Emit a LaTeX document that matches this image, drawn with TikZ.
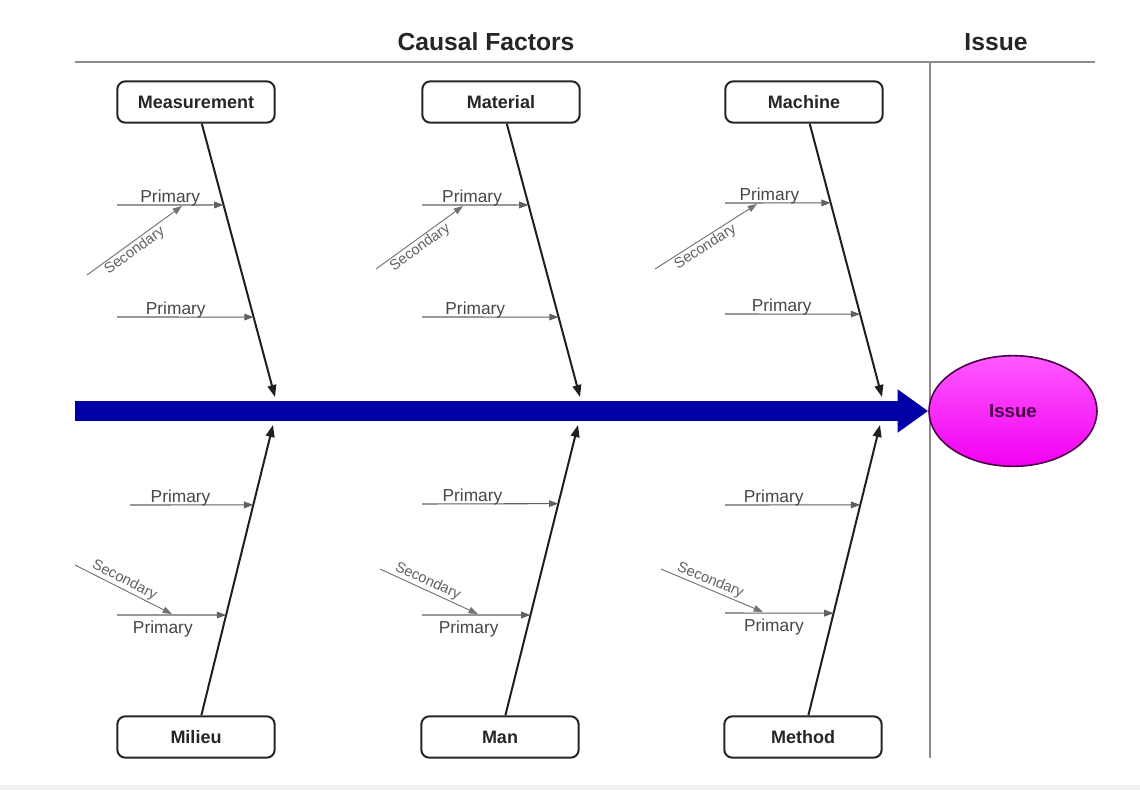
\documentclass[tikz,border=0pt]{standalone}
\usepackage{fontspec}
\setmainfont{Liberation Sans}
\usetikzlibrary{arrows.meta,shapes.geometric,calc}
\definecolor{spineblue}{HTML}{0000A6}
\definecolor{rulegray}{HTML}{8C8C8C}
\definecolor{issuetxt}{HTML}{4A0048}
\begin{document}
\begin{tikzpicture}[x=0.75pt,y=-0.75pt,
  catbox/.style={draw=black!85, line width=1.5pt, rounded corners=6pt,
    minimum width=118pt, minimum height=31pt, fill=white, inner sep=0pt,
    font=\fontsize{13.5}{15}\selectfont\bfseries, text=black!85},
  bone/.style={line width=1.5pt, draw=black!88, -{Triangle[length=9pt,width=6.5pt]}},
  prim/.style={line width=0.8pt, draw=black!62, -{Triangle[length=7pt,width=5pt]}},
  sec/.style={line width=0.7pt, draw=black!55, -{Triangle[length=7pt,width=5pt]}},
  plab/.style={font=\fontsize{13}{15}\selectfont, text=black!72, inner sep=0pt},
  pup/.style={plab, above, yshift=-1.5pt},
  pdown/.style={plab, below, yshift=-4pt},
  slab/.style={font=\fontsize{11}{12}\selectfont, text=black!62, inner sep=1pt},
  titlelab/.style={font=\fontsize{18.5}{22}\selectfont\bfseries, text=black!85},
  rule/.style={draw=rulegray, line width=1.4pt},
  spinearrow/.style={draw=spineblue, line width=15pt, -{Triangle[length=23pt,width=31pt]}}
]
\useasboundingbox (0,0) rectangle (1140,790);
\fill[white] (0,0) rectangle (1140,790);
\fill[black!5] (0,785) rectangle (1140,790);

% headers and rules
\node[titlelab] (cf) at (486,42) {Causal Factors};
\node[titlelab] (isshead) at (996,42) {Issue};
\coordinate (r1) at (75,62);
\coordinate (r2) at (1095,62);
\coordinate (v1) at (930,62);
\coordinate (v2) at (930,758);
\draw[rule] (r1) -- (r2);
\draw[rule] (v1) -- (v2);

% issue ellipse and spine
\node[ellipse, draw=issuetxt, line width=1.2pt, top color=magenta!65!white, bottom color=magenta!95!black,
  minimum width=126pt, minimum height=83pt, inner sep=0pt,
  font=\fontsize{14}{16}\selectfont\bfseries, text=issuetxt] (issue) at (1013,411) {Issue};
\coordinate (sp) at (75,411);
\draw[spinearrow] (sp) -- (issue.west);

% category boxes
\node[catbox] (meas) at (196,102) {Measurement};
\node[catbox] (mat)  at (501,102) {Material};
\node[catbox] (mach) at (804,102) {Machine};
\node[catbox] (mil)  at (196,737) {Milieu};
\node[catbox] (man)  at (500,737) {Man};
\node[catbox] (meth) at (803,737) {Method};

% bone tips
\coordinate (tMe) at (275,397);
\coordinate (tMa) at (580,397);
\coordinate (tMc) at (882,397);
\coordinate (tMi) at (273,425);
\coordinate (tMn) at (578,425);
\coordinate (tMt) at (880,425);

\draw[bone] (meas) -- (tMe);
\draw[bone] (mat) -- (tMa);
\draw[bone] (mach) -- (tMc);
\draw[bone] (mil) -- (tMi);
\draw[bone] (man) -- (tMn);
\draw[bone] (meth) -- (tMt);

% points on bones
\coordinate (me1) at ($(meas)!0.349!(tMe)$);
\coordinate (me2) at ($(meas)!0.729!(tMe)$);
\coordinate (ma1) at ($(mat)!0.349!(tMa)$);
\coordinate (ma2) at ($(mat)!0.729!(tMa)$);
\coordinate (mc1) at ($(mach)!0.342!(tMc)$);
\coordinate (mc2) at ($(mach)!0.719!(tMc)$);
\coordinate (mi1) at ($(mil)!0.744!(tMi)$);
\coordinate (mi2) at ($(mil)!0.391!(tMi)$);
\coordinate (mn1) at ($(man)!0.748!(tMn)$);
\coordinate (mn2) at ($(man)!0.391!(tMn)$);
\coordinate (mt1) at ($(meth)!0.744!(tMt)$);
\coordinate (mt2) at ($(meth)!0.397!(tMt)$);

% primary start points
\coordinate (me1s) at (117,205);
\coordinate (me2s) at (117,317);
\coordinate (ma1s) at (422,205);
\coordinate (ma2s) at (422,317);
\coordinate (mc1s) at (725,203);
\coordinate (mc2s) at (725,314);
\coordinate (mi1s) at (130,505);
\coordinate (mi2s) at (117,615);
\coordinate (mn1s) at (422,504);
\coordinate (mn2s) at (422,615);
\coordinate (mt1s) at (725,505);
\coordinate (mt2s) at (725,613);

% primary arrows
\draw[prim] (me1s) -- (me1) node[pup, pos=0.5] {Primary};
\draw[prim] (me2s) -- (me2) node[pup, pos=0.43] {Primary};
\draw[prim] (ma1s) -- (ma1) node[pup, pos=0.47] {Primary};
\draw[prim] (ma2s) -- (ma2) node[pup, pos=0.39] {Primary};
\draw[prim] (mc1s) -- (mc1) node[pup, pos=0.42] {Primary};
\draw[prim] (mc2s) -- (mc2) node[pup, pos=0.42] {Primary};
\draw[prim] (mi1s) -- (mi1) node[pup, pos=0.41] {Primary};
\draw[prim] (mi2s) -- (mi2) node[pdown, pos=0.42] {Primary};
\draw[prim] (mn1s) -- (mn1) node[pup, pos=0.37] {Primary};
\draw[prim] (mn2s) -- (mn2) node[pdown, pos=0.43] {Primary};
\draw[prim] (mt1s) -- (mt1) node[pup, pos=0.36] {Primary};
\draw[prim] (mt2s) -- (mt2) node[pdown, pos=0.45] {Primary};

% secondary arrows
\coordinate (se1a) at (87,275);   \coordinate (se1b) at (182,206);
\coordinate (se2a) at (376,269);  \coordinate (se2b) at (463,206);
\coordinate (se3a) at (655,269);  \coordinate (se3b) at (757,204);
\coordinate (se4a) at (75,565);   \coordinate (se4b) at (172,614);
\coordinate (se5a) at (380,569);  \coordinate (se5b) at (478,614);
\coordinate (se6a) at (661,569);  \coordinate (se6b) at (763,612);

\draw[sec] (se1a) -- (se1b) node[slab, sloped, below, pos=0.45] {Secondary};
\draw[sec] (se2a) -- (se2b) node[slab, sloped, below, pos=0.45] {Secondary};
\draw[sec] (se3a) -- (se3b) node[slab, sloped, below, pos=0.45] {Secondary};
\draw[sec] (se4a) -- (se4b) node[slab, sloped, above, pos=0.47] {Secondary};
\draw[sec] (se5a) -- (se5b) node[slab, sloped, above, pos=0.45] {Secondary};
\draw[sec] (se6a) -- (se6b) node[slab, sloped, above, pos=0.45] {Secondary};
\end{tikzpicture}
\end{document}
